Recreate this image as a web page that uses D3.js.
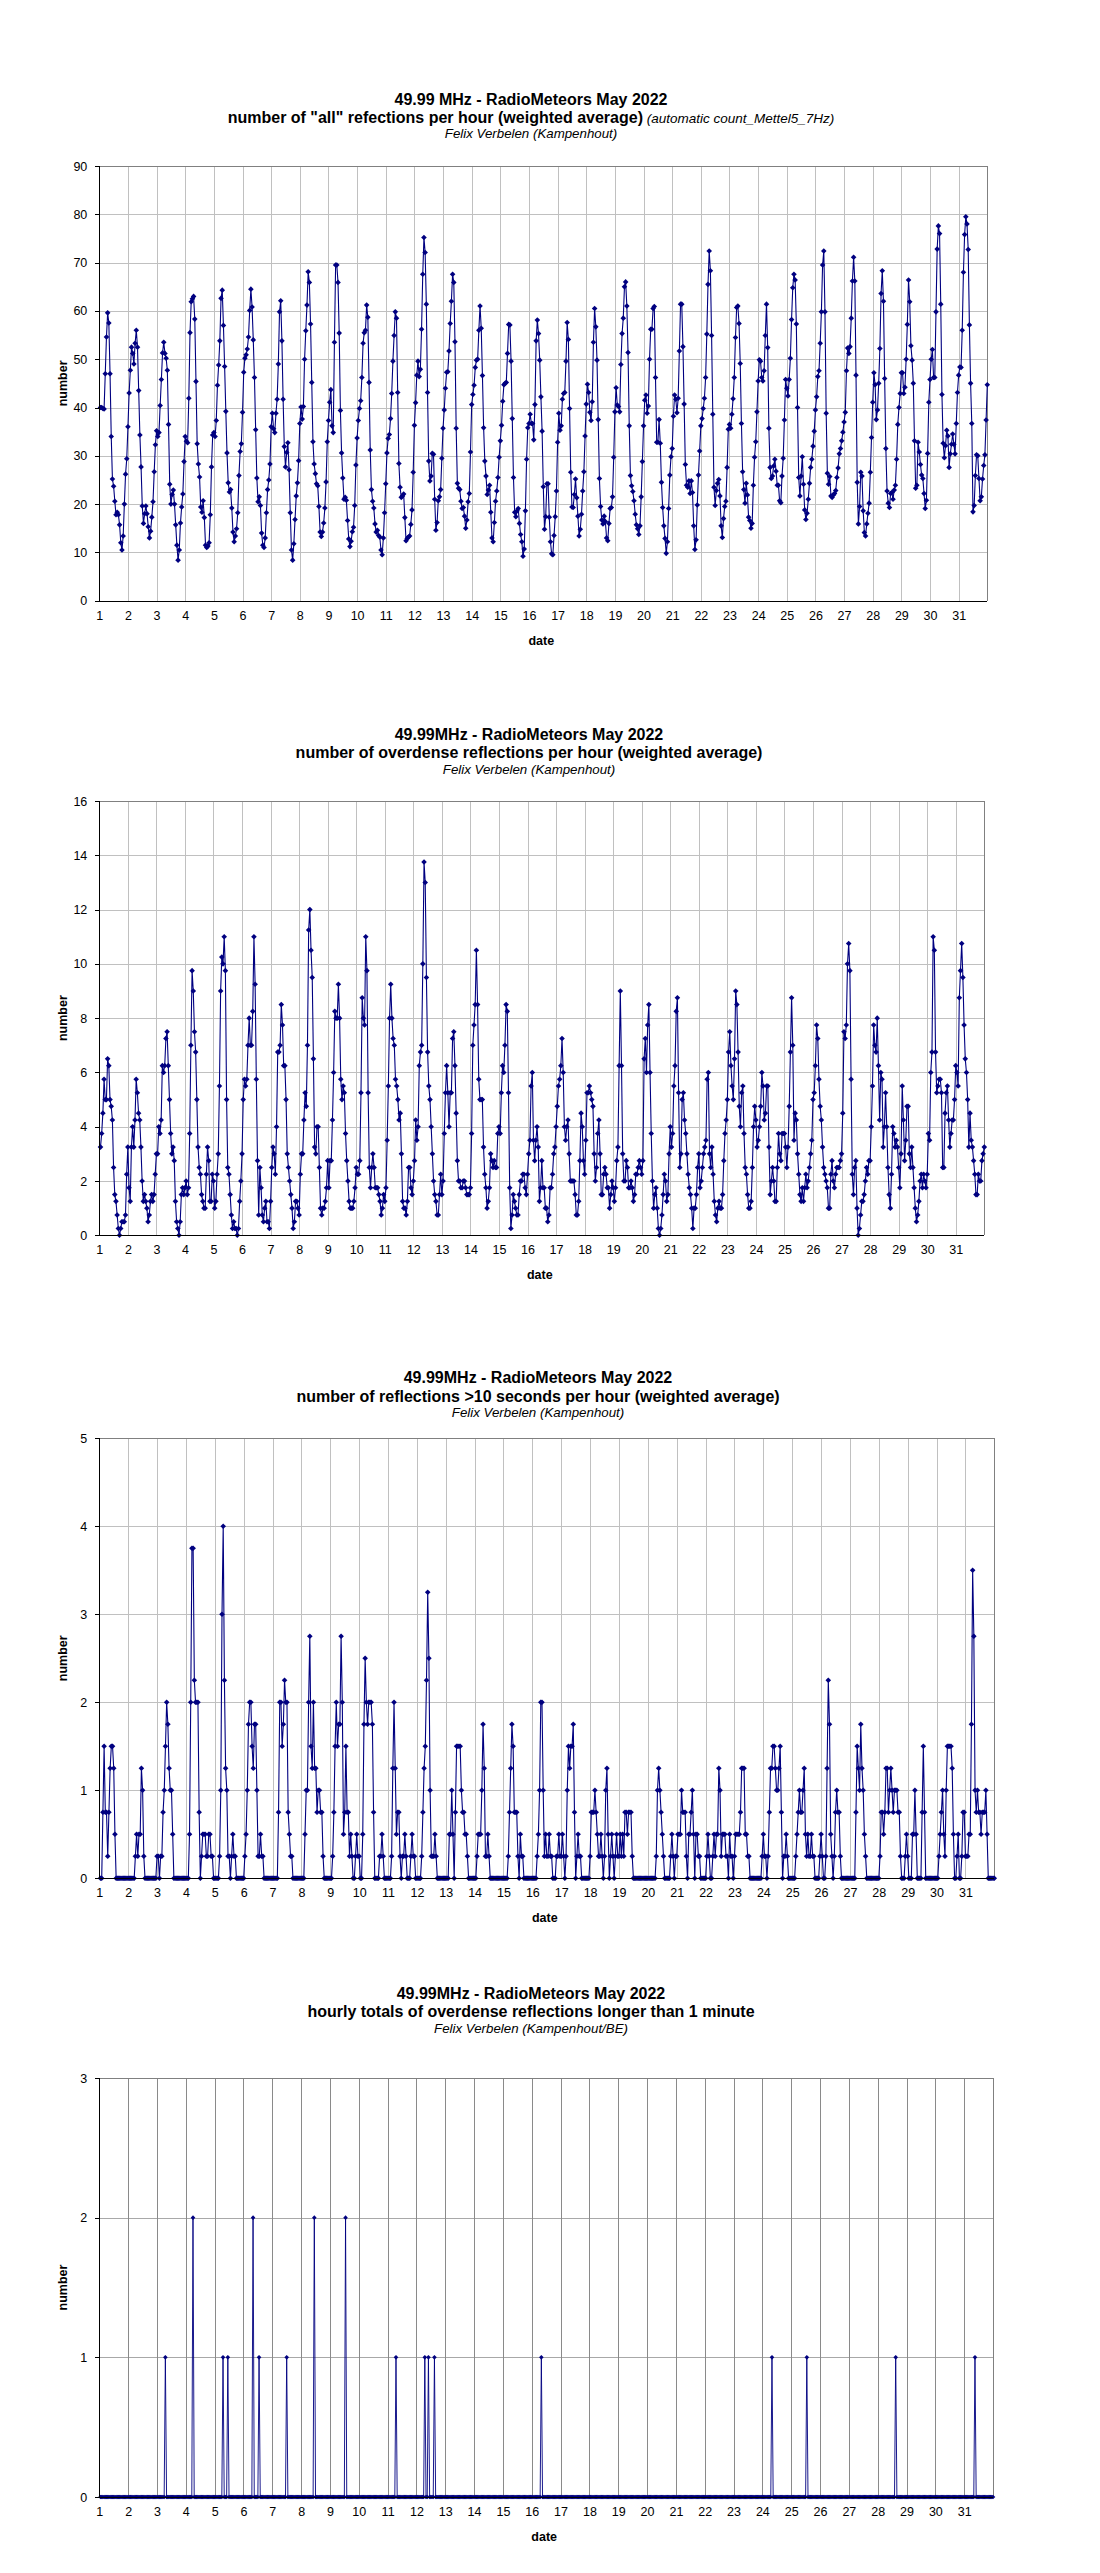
<!DOCTYPE html>
<html><head><meta charset="utf-8">
<script src="https://cdn.jsdelivr.net/npm/d3@7"></script>
<style>
body{margin:0;background:#fff;}
svg{display:block;font-family:"Liberation Sans",Arial,sans-serif;}
</style></head><body>
<svg id="c" width="1100" height="2573"></svg>
<script>
// ---------- data (one row of 24 hourly values per day, 1..31 May 2022) ----------
const dayLabels = d3.range(1, 32).map(String);

const allRate = [
[40,40,39.8,39.7,47,54.6,59.6,57.5,47,34,25.2,23.7,20.6,17.8,18.3,17.8,15.7,12,10.5,13.4,20,26.2,29.4,36],
[43,47.7,52.5,51.2,49,53.3,56,52.5,43.5,34.3,27.7,19.6,16,18,19.6,18,15.3,13,14.4,17.3,20.5,26.7,32.3,35.2],
[34,34.8,40.4,45.8,51.3,53.5,51.2,50.2,47.7,36.5,24.1,20,22,22.9,20,15.7,11.5,8.4,10.5,16.1,19.4,22.1,28.8,34],
[33,32.7,41.9,55.5,61.9,62.5,63,58.3,45.4,32.5,28.3,25.6,19.4,18.3,20.7,17.2,11.5,11,11.3,12,17.8,27.7,34.3,34.8],
[34,37.3,44.6,48.8,53.8,62.6,64.3,57,48.5,39.2,30.6,24.4,22.5,23,19.2,14.2,12.2,13.4,14.9,18.2,25.9,30.9,32.5,39],
[47.3,50.2,50.9,52.1,54.6,60.1,64.5,60.8,54,46.2,35.4,25.4,20.5,21.5,19.7,14,11.5,11,13,18.2,23,25,28.3,36],
[38.8,35.6,34.8,38.8,41.7,49,59.8,62.1,53.8,41.7,31.9,27.7,30.7,32.7,27.1,18.2,10.5,8.4,11.8,16.8,21.7,24.4,29,36.7],
[40.1,37.6,40.2,50,55.9,61.2,68.1,65.9,57.3,45.2,32.9,28.3,26.3,24.2,23.8,19.5,14.2,13.3,14.2,16.1,19.2,24.6,32.9,37.3],
[41.1,43.7,36.2,34.8,53.5,69.5,69.5,65.9,55.4,39.4,30.6,25.4,21,21.4,20.8,16.6,12.8,11.2,12.3,14.3,15.2,19.7,28.1,33.7],
[37.3,39.8,41.4,46.2,53.3,55.5,56,61.2,58.7,45.2,31.2,23,20.6,19.2,15.9,14.2,14.6,13.5,13.2,10.5,9.5,13,18.2,24.2],
[30.6,33.6,34.4,37.7,42.9,49.6,54.9,59.8,58.5,43.1,28.4,23.5,21.4,21.7,22.1,17.2,12.4,12.9,13.2,13.4,15.8,18.8,26.6,36.3],
[41,46.7,49.6,46.4,47.9,56.2,67.6,75.2,72.1,61.4,43.1,28.9,24.8,25.8,30.5,30.3,21,14.6,16.2,20.7,21.5,23,29.5,35.7],
[39.5,44,47.3,47.4,51.7,57.4,62,67.6,65.9,53.6,35.7,24.3,23.3,23,20.6,19.1,19.3,17.5,15,16.7,20.5,22.2,30.8,40.6],
[42.7,44.6,48.3,49.8,50,56,61,56.4,46.6,35.8,28.9,25.8,22,22.9,23.9,18.3,13,12.2,16.2,20.6,22.7,25.5,29.7,33.1],
[36.3,41.3,44.7,45,45.2,51.2,57.2,57.1,49.6,37.7,25.5,18.3,17.4,18.6,19.1,16,13.7,12.2,9.2,10.7,18.6,29.3,35.8,36.7],
[38.6,36.7,36.7,33.3,40.6,53.8,58.1,55.3,49.8,42.2,35.1,23.6,14.8,17.4,24.2,24.2,17.3,12.2,9.7,9.5,13.5,17.4,22.7,32.8],
[38.8,35.3,36.2,41.7,42.9,43.1,49.6,57.6,54.1,39.8,26.6,19.4,19.3,22,25.2,21.3,17.5,13.4,14.8,17.9,22.7,26.7,34.1,40.7],
[44.8,43.1,39,37.3,41.2,53.5,60.5,56.7,49.8,37.5,25.3,19.5,16.7,15.9,17.5,16.4,13,12.4,16,19.1,19.3,21.5,29.7,39.1],
[44.1,40.5,40.2,39.1,48.9,55.3,58.5,65,66,61,51.4,36.2,25.9,23.8,22.6,20.7,17.9,15.7,14.9,13.7,15.5,21.5,28.8,36.2],
[41.5,42.6,38.8,40.3,50,56.2,56.2,60.5,60.9,46.2,32.8,32.8,37.5,32.6,24.5,19.3,15.5,12.9,9.8,12.2,19.1,26,29.8,31.5],
[38.2,42.6,41.7,38.9,41.9,51.7,61.4,61.4,52.6,40.7,28.2,23.9,23.5,24.8,22.2,24.8,22.4,15.5,10.6,12.6,19.8,26,31,36.2],
[37.7,39.8,41.9,46.2,55.2,65.5,72.4,68.3,54.9,38.6,23.5,19.7,22.8,24.3,25.1,21.7,15.5,13.1,17,19.5,20.6,27.6,35.5,36.5],
[35.7,38.6,41.8,46.2,54.5,60.7,61,57.4,49.1,36.7,26.7,23,20.2,24.3,21.9,17.3,16.6,15,16,23.9,29.7,32.9,39.1,45.5],
[49.9,49.6,46.2,45.5,47.6,54.9,61.4,52.4,35.7,27.6,25.3,25.8,27.9,29.3,26.8,23.9,23.9,20.7,20.3,25.8,29.5,37.4,45.8,44],
[42.4,45.8,50.2,58.2,64.8,67.6,66.4,57.3,40,25.5,21.7,25.8,29.8,24.1,18.8,16.8,18.1,21,24.3,27.6,29.3,32,35.1,39.5],
[42.2,46.4,47.6,53.3,59.8,69.5,72.4,59.8,38.8,26.4,24.1,25.7,21.7,21.4,21.9,22.2,22.8,25.5,27.5,30.4,31.5,33.1,34.9,37],
[39,47.6,52.3,51.2,52.6,58.5,66.2,71.1,66.2,46.7,24.5,15.9,19.5,26.6,25.8,18.6,14.1,13.4,15.9,18.1,20.2,26.6,33.8,41.1],
[47.2,44.7,37.5,39.5,45,52.2,63.6,68.3,62,46,31.5,22.7,20.2,19.3,22.2,22.4,21,22.9,23.9,29.3,36.5,40,42.9,47.2],
[47.2,42.9,44.2,50,57.2,66.4,61.9,52.8,49.8,45,33.1,23.3,23.9,32.8,30.8,28.2,26,25.3,22.2,19.1,20.8,30.5,41.1,45.8],
[50,52,46.2,46.2,59.8,72.8,77.6,76,61.4,42.7,32.6,29.6,32.1,35.3,34.1,27.6,30.4,32.4,34.5,32.4,30.4,36.7,43.1,46.7],
[48.4,48.3,56,68,75.8,79.5,78,72.7,57.1,45,36.7,18.4,19.7,25.9,30.2,30,25.3,20.7,21.5,25.2,28,30.2,37.4,44.7]
];

const overdense = [
[3.25,3.75,4.5,5.75,5,5,6.5,6.25,5,4.75,4.25,2.5,1.5,1.25,0.75,0.25,0,0.25,0.5,0.5,0.5,0.75,2.25,3.25],
[1.75,1.25,3.25,4,3.25,4.25,5.75,5.25,4.5,4.25,3.25,2,1.25,1.5,1.25,1,0.5,0.75,1.25,1.5,1.25,1.5,2.25,3],
[3,4,3.75,4.25,6.25,6,6.25,7.25,7.5,6.25,5,3.75,3,3.25,2.75,1.25,0.5,0.25,0,0.5,1.5,1.75,1.5,1.75],
[2,1.5,1.75,3.75,7,9.75,9,7.5,6.75,5,3.25,2.5,2.25,1.5,1.25,1,1,2.25,3.25,2.75,1.25,1.25,2.25,2],
[1,1.25,2.25,3,5.5,9,10.25,10,11,9.75,5,2.5,2.25,1.5,0.75,0.25,0.5,0.25,0.25,0,0.25,1.25,2,3],
[5,5.75,5.5,5.75,7,8,7,7,8.25,11,9.25,5.75,2.75,0.75,2.5,1.75,0.75,0.5,1,1.25,0.5,0.5,0.25,1.25],
[2.5,3.25,3,2.25,4,6.75,6.75,7,8.5,7.75,6.25,6.25,5,3,2.5,2,1.5,1,0.25,0.5,1.25,1.25,1,0.75],
[2.25,3,3,4.25,5.25,4.75,7,11.25,12,10.5,9.5,6.5,3.25,3,4,4,2.5,1,0.75,1,1,1.25,1.75,2.75],
[1.75,2.75,2.75,4.25,6,8.25,8,8,9.25,8,5.75,5,5.5,5.25,3.75,2.75,2,1.25,1,1,1,1.25,1.75,2.5],
[2.25,2.25,2.75,5.25,8.75,8,7.75,11,9.75,5.25,2.5,1.75,2.5,3,2.5,1.75,1.75,1.75,1.5,1.25,0.75,1,1.5,1.25],
[1.75,3.5,5.5,8,9.25,8,7.25,7,5.75,5.5,5,4.25,4.5,3,1.25,1,1,0.75,1.25,2.5,2.5,1.75,1.5,2],
[2.75,4.25,3.5,4,6.25,6.75,7,10,13.75,13,9.5,6.75,5.5,5,4,3,2,1.5,1.25,0.75,0.75,1.5,2.25,1.5],
[2,3.75,5.25,6.25,5.25,4,5.25,5.25,7.25,7.5,6.25,4.5,2.75,2,2,1.75,1.75,2,2,1.75,1.5,1.5,1.5,1.75],
[3.75,7,7.75,8.5,10.5,8.5,5.75,5,5,5,3.25,2.25,1.75,1,1.25,1.75,3,2.75,2.5,2.75,2.5,2.5,3.75,4],
[3.75,5.25,6.25,6,7,8.5,8.25,5.25,1.75,0.25,0.75,1.5,1.25,1,0.75,0.75,1.5,2,2,2.25,2.25,1.75,1.5,2.25],
[3,3.5,5.5,6,3.5,2.75,3.5,4,3.25,1.25,1.75,2.75,1.75,1.75,1,1,0.5,0.75,1.75,1.75,2.25,3,3.25,4],
[4.75,5.5,5.75,6.25,7.25,6,4,3.5,4,4.25,3,2,2,2,2,1.5,0.75,0.75,1.25,2.75,4.5,4,2.75,2.25],
[3.5,5.25,5.25,5.5,5.25,5,4.75,3,2,2.5,3.75,4.25,3,1.5,1.5,2.25,2.5,2.25,1.75,1.75,1,1.5,2,1.75],
[1.25,1.75,2.75,3.25,6.25,9,6.25,3,2,2,2.75,2.5,1.75,1.75,2,1.75,1.25,1.5,2.25,2.25,2.5,2.75,2.5,2.25],
[2.75,6.5,7.25,6,7.75,8.5,6,3.75,2,1,1.5,1.75,1,0.25,0,0.25,0.75,1.5,2.25,2,1.25,1.5,3,4],
[3.25,3.75,5.5,6.25,8.25,8.75,5.25,2.5,3,5,5.25,4.25,3.75,3,2.25,1.75,1.5,1,0.25,1,1,1.5,2.5,3],
[1.75,2,2.5,3,3.25,3.5,5.75,6,3,2.5,3.25,2.25,1.25,0.75,0.5,1,1.25,1,1,1.5,2.75,3.75,4.25,5],
[6.75,7.5,6.25,5.5,5,6.5,9,8.5,6.75,4.75,4,5.25,5.5,3.75,2.5,2.25,1.5,1,1,1.25,2.5,4,4.75,4.25],
[3.25,3.5,4,4.75,6,5.5,4.25,4.5,5.5,5.5,3.25,1.5,2,2.5,2,1.25,1.25,2.5,3.75,3,2.75,3.75,3.75,3.75],
[3.25,2.5,3.25,4.75,6.75,8.75,7,3.5,4.5,4.25,3,2.25,1.5,1.25,1.75,1.25,1.75,2.25,1.75,2,2.5,3,3.5,5],
[5.25,6.25,7.75,7.25,5.75,4.75,4.25,3.25,2.5,2.25,2,1.75,1,1,2.25,2.75,2,1.75,2.25,2.5,2.5,2.5,2.75,3],
[4.5,7.5,7.25,7.75,10,10.75,9.75,5.75,2.25,1.5,2.5,2.75,1,0,0.25,0.75,1.25,1.25,1.5,2,2.5,2.25,2.75,2.75],
[4,5.5,7.75,7,6.75,8,6.25,4.25,6,5.75,3.25,4,5.25,4,2.5,1.5,1,2.25,4,3.75,3.25,3.5,3.25,2.5],
[1.75,3,5.5,4.25,2.75,3.5,4.75,4.75,3,2.5,3.25,2.5,1.75,1,0.5,0.75,1.25,2,2.25,1.75,2.25,2,1.75,2.25],
[3.75,3.5,6,6.75,11,10.5,6.75,5.25,5.5,5.75,5.75,5.25,2.5,2.5,4.5,5.25,5.5,4.25,3.25,3.75,4.25,4.25,5,6.25],
[6,5.5,8.75,9.75,10.75,9.5,7.75,6.5,6,5,3.25,4.5,3.5,3.25,2.75,2.25,1.5,1.5,2.25,2,2,2.75,3,3.25]
];

const over10s = [
[0,0,0.75,1.5,0.75,0.75,0.25,0.75,1.25,1.5,1.5,1.25,0.5,0,0,0,0,0,0,0,0,0,0,0],
[0,0,0,0,0,0.25,0.5,0.25,0.5,0.5,1.25,1,0.25,0,0,0,0,0,0,0,0,0,0,0.25],
[0.25,0,0.25,0.25,0.75,1,1.5,2,1.75,1.25,1,1,0.5,0,0,0,0,0,0,0,0,0,0,0],
[0,0,0.5,2,3.75,3.75,2.25,2,2,2,0.75,0,0.25,0.5,0.5,0.5,0.25,0.25,0.5,0.5,0.25,0.25,0,0],
[0,0,0,0.25,1,3,4,2.25,1.25,1,0.25,0.25,0,0.25,0.5,0.25,0.25,0,0,0,0,0,0,0],
[0.25,0.5,1,1.75,2,2,1.5,1.25,1.75,1.75,1,0.25,0.25,0.5,0.25,0.25,0,0,0,0,0,0,0,0],
[0,0,0,0,0.75,2,2,1.5,1.75,2.25,2,2,0.75,0.5,0.25,0.25,0,0,0,0,0,0,0,0],
[0,0,0.5,1,1,2,2.75,1.5,1.25,2,1.25,1.25,0.75,1,1,0.75,0.75,0.25,0,0,0,0,0,0],
[0,0.25,0.75,1.5,2,1.5,1.75,1.75,2.75,2,0.5,0.75,1.5,0.75,0.75,0.25,0.5,0.25,0,0,0.25,0.5,0.25,0.25],
[0,0,0.5,1.75,2.5,2,1.75,2,2,2,1.75,0.75,0,0,0,0,0.25,0.25,0.5,0.25,0,0,0,0],
[0,0,0.25,1.25,2,1.25,0.5,0.75,0.75,0.25,0,0.25,0.25,0.5,0.25,0,0,0,0.25,0.5,0.25,0.25,0,0],
[0,0,0,0.25,0.75,1.25,1.5,2.25,3.25,2.5,1,0.25,0.25,0.25,0.5,0.25,0,0,0,0,0,0,0,0],
[0,0,0.5,0.5,1,0.5,0,0.75,1.5,1.5,1.5,1.5,1,0.75,0.75,0.5,0.5,0.25,0,0,0,0,0,0],
[0,0.25,0.5,0.5,0.5,1,1.75,1.25,0.25,0.25,0.5,0.25,0,0,0,0,0,0,0,0,0,0,0,0],
[0,0,0,0.25,0.75,1.25,1.75,1.5,0.75,0.75,0.75,0.25,0,0.5,0.25,0.25,0,0,0,0,0,0,0,0],
[0,0,0,0.25,0.5,1,2,2,1,0.25,0.5,0.25,0.25,0.5,0.25,0.25,0,0,0,0.25,0.25,0.5,0.25,0.25],
[0.5,0.25,0,0.25,1,1.5,1.25,1.5,1.5,1.75,0.75,0,0.25,0.5,0.25,0.25,0,0,0,0,0,0,0,0.25],
[0.75,0.75,0.75,1,0.75,0.5,0.25,0.25,0.5,0.25,0,0.25,1,1.25,0.5,0,0.25,0.5,0.25,0,0.25,0.5,0.25,0.25],
[0.5,0.25,0.5,0.25,0.75,0.75,0.5,0.75,0.75,0.75,0.25,0,0,0,0,0,0,0,0,0,0,0,0,0],
[0,0,0,0,0,0,0.25,1,1.25,1,0.75,0.5,0.25,0,0,0,0,0,0.25,0.5,0.25,0,0.25,0.25],
[0.5,0.5,0.5,1,0.75,0.75,0.75,0.25,0,0.5,0.5,0.75,1,0.5,0,0.5,0.5,0.25,0.25,0,0,0,0,0],
[0.25,0.5,0.25,0,0,0.25,0.5,0.25,0.5,0.5,1.25,1,0.25,0.5,0.5,0.5,0.25,0.25,0,0.5,0.25,0.25,0,0.25],
[0.5,0.5,0.5,0.5,0.75,1.25,1.25,1.25,0.5,0.5,0.25,0.25,0,0,0,0,0,0,0,0,0,0,0.25,0.5],
[0.25,0.25,0,0.25,0.75,1.25,1.25,1.5,1.5,1.25,1,1,1.25,1.5,0.75,0,0.25,0.25,0.5,0.25,0,0,0,0],
[0,0,0.25,0.5,0.75,1,0.75,0.75,1,1.25,0.5,0.25,0.5,0.25,0.25,0.5,0.25,0.25,0,0,0,0,0.25,0.5],
[0.25,0,0,0.25,1.25,2.25,1.75,0.5,0.25,0,0.25,0.75,1,0.75,0.75,0.25,0,0,0,0,0,0,0,0],
[0,0,0,0,0.75,1.5,1.25,1,1.75,1.25,1,0.5,0.25,0,0,0,0,0,0,0,0,0,0,0],
[0.25,0.75,0.75,0.5,0.75,1.25,1.25,0.75,1,1.25,1,0.75,1,1,1,0.75,0.75,0.25,0,0,0,0.25,0.5,0.25],
[0,0,0,0.5,0.5,1,0.5,0,0,0,0,0.75,1.5,0.75,0,0,0,0,0,0,0,0,0,0],
[0,0.25,0.5,0.75,1,0.5,0.25,1,1.5,1.5,1.5,1.5,1.25,0.5,0,0,0.25,0.5,0,0,0.25,0.75,0.75,0.25],
[0.25,0.25,0.5,0.5,1.75,3.5,2.75,1,0.75,1,0.75,0.75,0.5,0.75,0.75,0.75,1,0.5,0,0,0,0,0,0]
];

const over1min = [
[0,0,0,0,0,0,0,0,0,0,0,0,0,0,0,0,0,0,0,0,0,0,0,0],
[0,0,0,0,0,0,0,0,0,0,0,0,0,0,0,0,0,0,0,0,0,0,0,0],
[0,0,0,0,0,0,1,0,0,0,0,0,0,0,0,0,0,0,0,0,0,0,0,0],
[0,0,0,0,0,2,0,0,0,0,0,0,0,0,0,0,0,0,0,0,0,0,0,0],
[0,0,0,0,0,0,1,0,0,0,1,0,0,0,0,0,0,0,0,0,0,0,0,0],
[0,0,0,0,0,0,0,2,0,0,0,0,1,0,0,0,0,0,0,0,0,0,0,0],
[0,0,0,0,0,0,0,0,0,0,0,1,0,0,0,0,0,0,0,0,0,0,0,0],
[0,0,0,0,0,0,0,0,0,0,2,0,0,0,0,0,0,0,0,0,0,0,0,0],
[0,0,0,0,0,0,0,0,0,0,0,0,2,0,0,0,0,0,0,0,0,0,0,0],
[0,0,0,0,0,0,0,0,0,0,0,0,0,0,0,0,0,0,0,0,0,0,0,0],
[0,0,0,0,0,0,1,0,0,0,0,0,0,0,0,0,0,0,0,0,0,0,0,0],
[0,0,0,0,0,0,1,0,0,1,0,0,0,0,1,0,0,0,0,0,0,0,0,0],
[0,0,0,0,0,0,0,0,0,0,0,0,0,0,0,0,0,0,0,0,0,0,0,0],
[0,0,0,0,0,0,0,0,0,0,0,0,0,0,0,0,0,0,0,0,0,0,0,0],
[0,0,0,0,0,0,0,0,0,0,0,0,0,0,0,0,0,0,0,0,0,0,0,0],
[0,0,0,0,0,0,0,1,0,0,0,0,0,0,0,0,0,0,0,0,0,0,0,0],
[0,0,0,0,0,0,0,0,0,0,0,0,0,0,0,0,0,0,0,0,0,0,0,0],
[0,0,0,0,0,0,0,0,0,0,0,0,0,0,0,0,0,0,0,0,0,0,0,0],
[0,0,0,0,0,0,0,0,0,0,0,0,0,0,0,0,0,0,0,0,0,0,0,0],
[0,0,0,0,0,0,0,0,0,0,0,0,0,0,0,0,0,0,0,0,0,0,0,0],
[0,0,0,0,0,0,0,0,0,0,0,0,0,0,0,0,0,0,0,0,0,0,0,0],
[0,0,0,0,0,0,0,0,0,0,0,0,0,0,0,0,0,0,0,0,0,0,0,0],
[0,0,0,0,0,0,0,0,0,0,0,0,0,0,0,0,0,0,0,0,0,0,0,0],
[0,0,0,0,0,0,0,1,0,0,0,0,0,0,0,0,0,0,0,0,0,0,0,0],
[0,0,0,0,0,0,0,0,0,0,0,0,1,0,0,0,0,0,0,0,0,0,0,0],
[0,0,0,0,0,0,0,0,0,0,0,0,0,0,0,0,0,0,0,0,0,0,0,0],
[0,0,0,0,0,0,0,0,0,0,0,0,0,0,0,0,0,0,0,0,0,0,0,0],
[0,0,0,0,0,0,0,0,0,0,0,0,0,0,1,0,0,0,0,0,0,0,0,0],
[0,0,0,0,0,0,0,0,0,0,0,0,0,0,0,0,0,0,0,0,0,0,0,0],
[0,0,0,0,0,0,0,0,0,0,0,0,0,0,0,0,0,0,0,0,0,0,0,0],
[0,0,0,0,0,0,0,0,1,0,0,0,0,0,0,0,0,0,0,0,0,0,0,0]
];

const titles1 = ["49.99 MHz - RadioMeteors May 2022", "number of \"all\" refections per hour (weighted average)", " (automatic count_Mettel5_7Hz)", "Felix Verbelen (Kampenhout)"];
const titles2 = ["49.99MHz - RadioMeteors May 2022", "number of overdense reflections  per hour (weighted average)", "", "Felix Verbelen (Kampenhout)"];
const titles3 = ["49.99MHz - RadioMeteors May 2022", "number of reflections >10 seconds per hour (weighted average)", "", "Felix Verbelen (Kampenhout)"];
const titles4 = ["49.99MHz - RadioMeteors May 2022", "hourly totals of overdense reflections  longer than 1 minute", "", "Felix Verbelen (Kampenhout/BE)"];

// ---------- drawing ----------
const svg = d3.select("#c");
svg.append("rect").attr("width",1100).attr("height",2573).attr("fill","#fff");

const panels = [
  {data: allRate, yMax: 90, yStep: 10, l: 99.3, r: 987.3, t: 166, b: 600.7, titles: titles1, ty: [99,117,133], cx: 531, vGrid: "#c0c0c0", hGrid: "#c0c0c0", lw: 1.1, mr: 2.8},
  {data: overdense, yMax: 16, yStep: 2, l: 99.3, r: 984.3, t: 801, b: 1235.3, titles: titles2, ty: [734,752,769], cx: 529, vGrid: "#c0c0c0", hGrid: "#c0c0c0", lw: 1.1, mr: 2.8},
  {data: over10s, yMax: 5, yStep: 1, l: 99.3, r: 994.3, t: 1438.3, b: 1878.3, titles: titles3, ty: [1377,1396,1412], cx: 538, vGrid: "#c0c0c0", hGrid: "#c0c0c0", lw: 1.1, mr: 2.8},
  {data: over1min, yMax: 3, yStep: 1, l: 99.3, r: 993, t: 2078, b: 2497, titles: titles4, ty: [1993,2011,2028], cx: 531, vGrid: "#8a8a8a", hGrid: "#a8a8a8", lw: 0.9, mr: 2.3}
];

const navy = "#000080";

panels.forEach(p => {
  const g = svg.append("g");
  const x = d3.scaleLinear().domain([1, 32]).range([p.l, p.r]);
  const y = d3.scaleLinear().domain([0, p.yMax]).range([p.b, p.t]);
  const yTicks = d3.range(0, p.yMax + 1e-9, p.yStep);

  // horizontal grid
  g.append("g").call(d3.axisLeft(y).tickValues(yTicks.filter(v => v > 0)).tickSize(-(p.r - p.l)).tickFormat(""))
    .attr("transform", `translate(${p.l},0)`)
    .call(s => s.select(".domain").remove())
    .call(s => s.selectAll("line").attr("stroke", p.hGrid).attr("shape-rendering","crispEdges"));
  // vertical grid (day lines)
  g.append("g").call(d3.axisBottom(x).tickValues(d3.range(2, 33)).tickSize(-(p.b - p.t)).tickFormat(""))
    .attr("transform", `translate(0,${p.b})`)
    .call(s => s.select(".domain").remove())
    .call(s => s.selectAll("line").attr("stroke", p.vGrid).attr("shape-rendering","crispEdges"));
  // top & right frame
  g.append("path").attr("d", `M${p.l},${p.t}H${p.r}V${p.b}`).attr("fill","none").attr("stroke","#808080").attr("shape-rendering","crispEdges");

  // titles
  g.append("text").attr("x", p.cx).attr("y", p.ty[0] + 5.5).attr("text-anchor","middle")
    .attr("font-weight","bold").attr("font-size",16).text(p.titles[0]);
  const t2 = g.append("text").attr("x", p.cx).attr("y", p.ty[1] + 5.5).attr("text-anchor","middle");
  t2.append("tspan").attr("font-weight","bold").attr("font-size",16).text(p.titles[1]);
  if (p.titles[2]) t2.append("tspan").attr("font-style","italic").attr("font-size",13.5).text(p.titles[2]);
  g.append("text").attr("x", p.cx).attr("y", p.ty[2] + 4.5).attr("text-anchor","middle")
    .attr("font-style","italic").attr("font-size",13.3).text(p.titles[3]);

  // series
  const pts = [];
  p.data.forEach((day, di) => day.forEach((v, h) => pts.push({t: (di + 1) + (h + 1) / 24, v})));
  g.append("path").datum(pts)
    .attr("d", d3.line().x(d => x(d.t)).y(d => y(d.v)))
    .attr("fill","none").attr("stroke", navy).attr("stroke-width", p.lw).attr("stroke-linejoin","round");
  const m = p.mr;
  g.append("g").selectAll("path").data(pts).enter().append("path")
    .attr("transform", d => `translate(${x(d.t)},${y(d.v)})`)
    .attr("d", `M${-m},0L0,${-m}L${m},0L0,${m}Z`)
    .attr("fill", navy);

  // axes
  const ya = g.append("g").attr("transform", `translate(${p.l},0)`)
    .call(d3.axisLeft(y).tickValues(yTicks).tickSize(4).tickPadding(8).tickFormat(d3.format("d")));
  ya.selectAll("text").attr("font-size",12.5).attr("fill","#000").attr("font-family","Liberation Sans, Arial, sans-serif");
  ya.selectAll("line,path").attr("stroke","#000").attr("shape-rendering","crispEdges");

  const xa = g.append("g").attr("transform", `translate(0,${p.b})`)
    .call(d3.axisBottom(x).tickValues(d3.range(1, 32)).tickSize(0).tickPadding(10).tickFormat((d, i) => dayLabels[i]));
  xa.selectAll("text").attr("font-size",12.5).attr("fill","#000").attr("font-family","Liberation Sans, Arial, sans-serif");
  xa.select(".domain").attr("d", `M${p.l},0.5H${p.r}`).attr("stroke","#000").attr("shape-rendering","crispEdges");

  // axis titles
  g.append("text").attr("x", (p.l + p.r) / 2 - 2).attr("y", p.b + 44).attr("text-anchor","middle")
    .attr("font-weight","bold").attr("font-size",12.5).text("date");
  g.append("text").attr("transform", `translate(67,${(p.t + p.b) / 2}) rotate(-90)`).attr("text-anchor","middle")
    .attr("font-weight","bold").attr("font-size",12.5).text("number");
});
</script>
</body></html>
